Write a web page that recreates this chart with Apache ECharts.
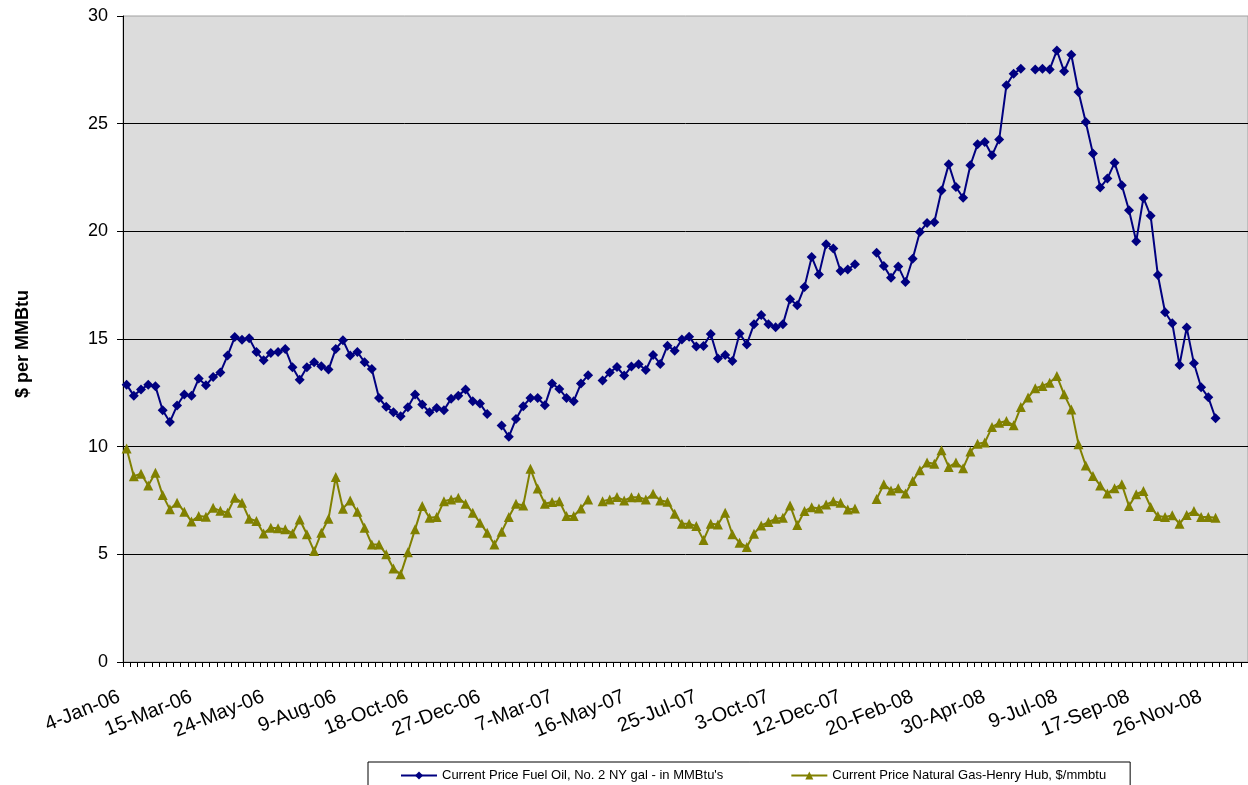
<!DOCTYPE html>
<html>
<head>
<meta charset="utf-8">
<title>Fuel Oil vs Natural Gas</title>
<script src="https://cdn.jsdelivr.net/npm/echarts@6/dist/echarts.min.js"></script>
<style>
  html, body { margin: 0; padding: 0; background: #fff; }
  #main { width: 1248px; height: 785px; }
</style>
</head>
<body>
<div id="main"></div>
<script>
// weekly categories, 4-Jan-06 onwards (the week of 5-Jul-06 is not in the sheet)
const startDate = Date.UTC(2006, 0, 4);
const skippedWeeks = ["5-Jul-06"];
const categoryCount = 156;
const monthNames = ["Jan", "Feb", "Mar", "Apr", "May", "Jun", "Jul", "Aug", "Sep", "Oct", "Nov", "Dec"];

const weeks = [];
for (let t = startDate; weeks.length < categoryCount; t += 7 * 86400000) {
  const d = new Date(t);
  const label = `${d.getUTCDate()}-${monthNames[d.getUTCMonth()]}-${String(d.getUTCFullYear()).slice(2)}`;
  if (!skippedWeeks.includes(label)) weeks.push(label);
}

const fuelOil = [
  12.88, 12.37, 12.65, 12.88, 12.8, 11.69, 11.15, 11.91, 12.42, 12.37,
  13.16, 12.85, 13.24, 13.45, 14.23, 15.09, 14.97, 15.03, 14.4, 14.01,
  14.35, 14.4, 14.54, 13.69, 13.11, 13.69, 13.92, 13.73, 13.58, 14.54,
  14.94, 14.23, 14.4, 13.92, 13.61, 12.26, 11.85, 11.6, 11.41, 11.83,
  12.42, 11.96, 11.6, 11.8, 11.69, 12.23, 12.37, 12.65, 12.11, 12.0,
  11.52, null, 10.98, 10.46, 11.29, 11.88, 12.26, 12.26, 11.92, 12.93,
  12.68, 12.26, 12.11, 12.93, 13.32, null, 13.07, 13.45, 13.7, 13.3,
  13.72, 13.83, 13.56, 14.26, 13.84, 14.69, 14.46, 14.98, 15.11, 14.65,
  14.68, 15.23, 14.1, 14.26, 13.98, 15.26, 14.75, 15.69, 16.11, 15.69,
  15.54, 15.68, 16.85, 16.57, 17.42, 18.81, 17.99, 19.4, 19.2, 18.16,
  18.23, 18.47, null, null, 19.01, 18.39, 17.85, 18.37, 17.65, 18.73,
  19.97, 20.39, 20.42, 21.9, 23.11, 22.06, 21.56, 23.07, 24.04, 24.15,
  23.53, 24.27, 26.78, 27.32, 27.55, null, 27.52, 27.55, 27.52, 28.4,
  27.43, 28.2, 26.47, 25.08, 23.61, 22.03, 22.45, 23.18, 22.14, 20.98,
  19.54, 21.55, 20.72, 17.97, 16.24, 15.73, 13.79, 15.53, 13.87, 12.76,
  12.29, 11.32
];

const naturalGas = [
  9.92, 8.63, 8.74, 8.2, 8.79, 7.75, 7.09, 7.4, 6.98, 6.53,
  6.78, 6.75, 7.16, 7.02, 6.93, 7.63, 7.4, 6.65, 6.55, 5.97,
  6.24, 6.21, 6.17, 5.97, 6.62, 5.93, 5.15, 6.0, 6.65, 8.59,
  7.12, 7.5, 6.98, 6.24, 5.46, 5.46, 5.0, 4.34, 4.07, 5.1,
  6.16, 7.24, 6.7, 6.73, 7.47, 7.55, 7.63, 7.35, 6.93, 6.47,
  6.0, 5.46, 6.05, 6.73, 7.35, 7.27, 8.97, 8.06, 7.35, 7.43,
  7.47, 6.78, 6.78, 7.13, 7.55, null, 7.47, 7.55, 7.66, 7.5,
  7.65, 7.65, 7.55, 7.81, 7.5, 7.44, 6.88, 6.42, 6.42, 6.31,
  5.66, 6.42, 6.39, 6.93, 5.93, 5.54, 5.34, 5.96, 6.34, 6.5,
  6.65, 6.7, 7.27, 6.36, 7.01, 7.19, 7.13, 7.31, 7.47, 7.39,
  7.08, 7.13, null, null, 7.57, 8.25, 7.97, 8.07, 7.82, 8.41,
  8.9, 9.26, 9.21, 9.83, 9.06, 9.26, 9.0, 9.77, 10.14, 10.19,
  10.91, 11.11, 11.19, 10.99, 11.84, 12.28, 12.71, 12.82, 12.97, 13.28,
  12.43, 11.73, 10.11, 9.13, 8.64, 8.2, 7.83, 8.07, 8.25, 7.24,
  7.79, 7.94, 7.2, 6.78, 6.73, 6.81, 6.42, 6.83, 7.01, 6.73,
  6.73, 6.7
];

const seriesNames = [
  "Current Price Fuel Oil, No. 2 NY gal - in MMBtu's",
  "Current Price Natural Gas-Henry Hub, $/mmbtu"
];

const font = "Liberation Sans, Arial, sans-serif";

const myChart = echarts.init(document.getElementById("main"), null, { renderer: "canvas" });

myChart.setOption({
  animation: false,
  backgroundColor: "#ffffff",
  textStyle: { fontFamily: font },
  grid: {
    left: 123,
    top: 16,
    right: -3,
    bottom: 123,
    show: true,
    backgroundColor: "#dcdcdc",
    borderColor: "#a0a0a0",
    borderWidth: 1,
  },
  legend: {
    left: 368,
    top: 762,
    padding: [7, 24, 8, 32],
    itemGap: 67,
    itemWidth: 36,
    itemHeight: 10,
    borderColor: "#000",
    borderWidth: 1,
    backgroundColor: "#fff",
    textStyle: { fontSize: 13, color: "#000", fontFamily: font },
    data: seriesNames,
  },
  xAxis: {
    type: "category",
    data: weeks,
    boundaryGap: true,
    axisLine: { show: true, lineStyle: { color: "#000", width: 1 } },
    axisTick: { show: true, interval: 0, length: 5, lineStyle: { color: "#000" } },
    axisLabel: {
      interval: 9,
      rotate: 22,
      fontSize: 20,
      color: "#000",
      margin: 31,
      padding: [0, 8, 0, 0],
      fontFamily: font,
    },
    splitLine: { show: false },
  },
  yAxis: {
    type: "value",
    min: 0,
    max: 30,
    interval: 5,
    name: "$ per MMBtu",
    nameLocation: "middle",
    nameGap: 91,
    nameTextStyle: {
      fontSize: 18,
      fontWeight: "bold",
      color: "#000",
      fontFamily: font,
      padding: [0, 10, 0, 0],
    },
    axisLine: { show: true, lineStyle: { color: "#000", width: 1 } },
    axisTick: { show: true, length: 6, lineStyle: { color: "#000" } },
    axisLabel: { fontSize: 18, color: "#000", margin: 15, fontFamily: font },
    splitLine: { show: true, showMinLine: false, showMaxLine: false, lineStyle: { color: "#000", width: 1 } },
  },
  series: [
    {
      name: seriesNames[0],
      type: "line",
      data: fuelOil,
      connectNulls: false,
      symbol: "diamond",
      symbolSize: 10,
      showAllSymbol: true,
      lineStyle: { color: "#000080", width: 2 },
      itemStyle: { color: "#000080" },
    },
    {
      name: seriesNames[1],
      type: "line",
      data: naturalGas,
      connectNulls: false,
      symbol: "triangle",
      symbolSize: 10,
      showAllSymbol: true,
      lineStyle: { color: "#808000", width: 2 },
      itemStyle: { color: "#808000" },
    },
  ],
});
</script>
</body>
</html>
